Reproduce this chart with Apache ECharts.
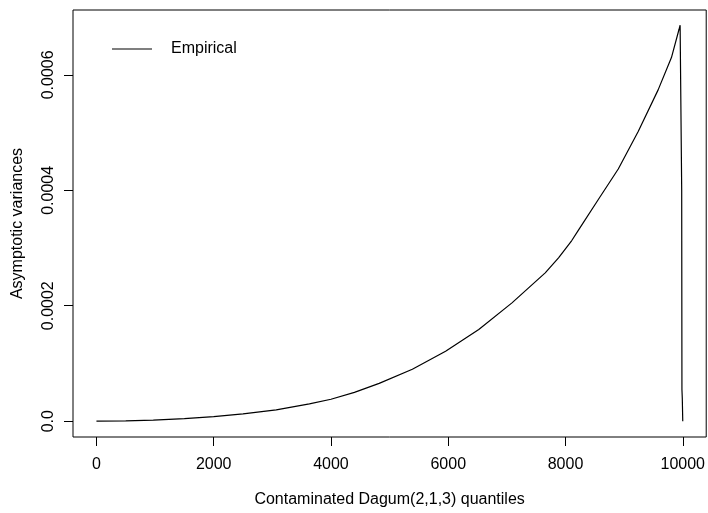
<!DOCTYPE html>
<html>
<head>
<meta charset="utf-8">
<script src="https://cdn.jsdelivr.net/npm/echarts@6/dist/echarts.min.js"></script>
<style>html,body{margin:0;padding:0;background:#fff}#c{width:708px;height:513px}</style>
</head>
<body>
<div id="c"></div>
<script>
var quantiles = [0, 500, 969, 1500, 2000, 2500, 3066, 3632, 4000, 4400, 4822, 5388, 5955, 6521, 7087, 7654, 7881, 8107, 8221, 8560, 8900, 9240, 9580, 9807, 9937, 9955, 9975, 9982, 9986, 9992, 10000];
var variances = [0, 0.0000005, 0.0000019, 0.0000045, 0.0000079, 0.0000125, 0.0000195, 0.000030, 0.000038, 0.000050, 0.0000655, 0.000090, 0.000121, 0.000159, 0.000205, 0.000257, 0.000283, 0.000313, 0.000331, 0.000384, 0.000437, 0.000502, 0.000574, 0.000630, 0.000679, 0.000686, 0.000683, 0.00040, 0.000055, 0.00004, 0];
var xTicks = [0, 2000, 4000, 6000, 8000, 10000];
var yTicks = [0, 0.0002, 0.0004, 0.0006];
var seriesName = 'Empirical';
var xTitle = 'Contaminated Dagum(2,1,3) quantiles';
var yTitle = 'Asymptotic variances';

var data = quantiles.map(function (q, i) { return [q, variances[i]]; });
var font = 'Liberation Sans, Arial, Helvetica, sans-serif';
var chart = echarts.init(document.getElementById('c'));
chart.setOption({
  animation: false,
  backgroundColor: '#fff',
  grid: { left: 73, right: 0, top: 10, bottom: 76, show: true, borderColor: '#000', borderWidth: 1, backgroundColor: 'transparent' },
  legend: {
    left: 107, top: 36, itemWidth: 40, itemHeight: 14,
    icon: 'path://M0,0 L40,0 L40,1 L0,1 Z',
    data: [{ name: seriesName, itemStyle: { color: '#000' } }],
    textStyle: { fontFamily: font, fontSize: 16, color: '#000', padding: [0, 0, 0, 14] }
  },
  xAxis: {
    type: 'value', min: -400, max: 10400,
    name: xTitle, nameLocation: 'middle', nameGap: 55,
    nameTextStyle: { fontFamily: font, fontSize: 16, color: '#000' },
    axisLine: { show: false, onZero: false },
    splitLine: { show: false },
    axisTick: { show: true, length: 9, inside: false, customValues: xTicks, lineStyle: { color: '#000' } },
    axisLabel: { customValues: xTicks, margin: 20, fontFamily: font, fontSize: 16, color: '#000',
      formatter: function (v) { return String(v); } }
  },
  yAxis: {
    type: 'value', min: -0.0000274, max: 0.0007124,
    name: yTitle, nameLocation: 'middle', nameGap: 47, nameRotate: 90,
    nameTextStyle: { fontFamily: font, fontSize: 16, color: '#000' },
    axisLine: { show: false, onZero: false },
    splitLine: { show: false },
    axisTick: { show: true, length: 9, customValues: yTicks, lineStyle: { color: '#000' } },
    axisLabel: {
      customValues: yTicks, rotate: 90, margin: 16, fontFamily: font, fontSize: 16, color: '#000',
      formatter: function (v) { return v === 0 ? '0.0' : v.toFixed(4); }
    }
  },
  series: [{
    name: seriesName, type: 'line', data: data, showSymbol: false, symbol: 'none',
    smooth: false,
    lineStyle: { color: '#000', width: 1.2 }, itemStyle: { color: '#000' }
  }]
});
</script>
</body>
</html>
